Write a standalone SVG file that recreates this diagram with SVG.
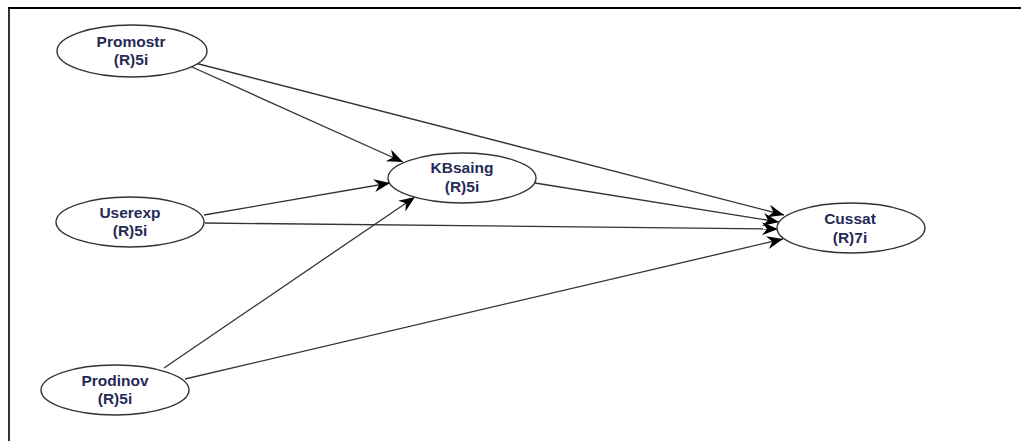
<svg xmlns="http://www.w3.org/2000/svg" width="1021" height="441" viewBox="0 0 1021 441">
  <style>
    .node ellipse { fill: #ffffff; stroke: #333333; stroke-width: 1.4; }
    .node text { font-family: "Liberation Sans", Arial, sans-serif; font-weight: bold; font-size: 15.5px; fill: #262a55; text-anchor: middle; }
    .edges line { stroke: #333333; stroke-width: 1.3; marker-end: url(#arrow); }
    .frame { stroke: #000000; fill: none; }
  </style>
  <defs>
    <marker id="arrow" markerUnits="userSpaceOnUse" markerWidth="20" markerHeight="16" viewBox="-17 -8 19 16" refX="0" refY="0" orient="auto">
      <path d="M0,0 L-16,-6.5 L-11,0 L-16,6.5 Z" fill="#000000"/>
    </marker>
  </defs>

  <rect width="1021" height="441" fill="#ffffff"/>
  <!-- frame -->
  <line class="frame" x1="8" y1="8" x2="1021" y2="8" stroke-width="2.2"/>
  <line class="frame" x1="9" y1="7" x2="9" y2="441" stroke-width="1.6"/>

  <g class="edges">
    <line x1="192" y1="67" x2="403" y2="162"/>
    <line x1="195" y1="63" x2="784" y2="215"/>
    <line x1="204" y1="215" x2="390" y2="183"/>
    <line x1="205" y1="223" x2="778" y2="229"/>
    <line x1="164" y1="368" x2="415" y2="197"/>
    <line x1="185" y1="379" x2="783" y2="239"/>
    <line x1="535" y1="183" x2="779" y2="222"/>
  </g>

  <g id="Promostr" class="node">
    <ellipse cx="132" cy="51" rx="75" ry="26"/>
    <text x="131" y="47">Promostr</text>
    <text x="131" y="65">(R)5i</text>
  </g>
  <g id="Userexp" class="node">
    <ellipse cx="130" cy="222" rx="74" ry="25"/>
    <text x="130" y="218">Userexp</text>
    <text x="130" y="236">(R)5i</text>
  </g>
  <g id="Prodinov" class="node">
    <ellipse cx="115" cy="390" rx="74" ry="25"/>
    <text x="115" y="386">Prodinov</text>
    <text x="115" y="404">(R)5i</text>
  </g>
  <g id="KBsaing" class="node">
    <ellipse cx="462" cy="178" rx="74" ry="25"/>
    <text x="462" y="173">KBsaing</text>
    <text x="462" y="192">(R)5i</text>
  </g>
  <g id="Cussat" class="node">
    <ellipse cx="851" cy="228" rx="74" ry="25"/>
    <text x="850" y="224">Cussat</text>
    <text x="850" y="243">(R)7i</text>
  </g>
</svg>
